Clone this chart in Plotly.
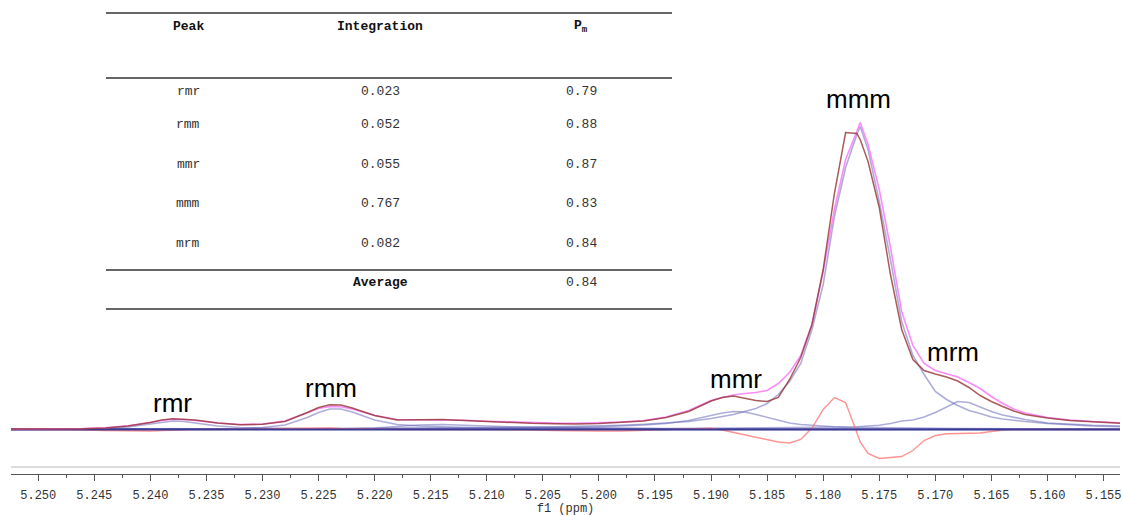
import plotly.graph_objects as go

# ---------------- data ----------------
ppm = [5.2525, 5.250, 5.248, 5.246, 5.244, 5.242, 5.240, 5.239, 5.238, 5.237, 5.236,
       5.234, 5.232, 5.230, 5.228, 5.226, 5.225, 5.224, 5.223, 5.222,
       5.220, 5.218, 5.216, 5.214, 5.212, 5.210, 5.208, 5.206, 5.204, 5.202,
       5.200, 5.198, 5.196, 5.194, 5.192, 5.190, 5.189, 5.188, 5.187, 5.186,
       5.185, 5.184, 5.183, 5.182, 5.181, 5.180, 5.179, 5.178, 5.177, 5.1767,
       5.176, 5.175, 5.174, 5.173, 5.172, 5.171, 5.170, 5.169, 5.168, 5.167,
       5.166, 5.165, 5.164, 5.163, 5.162, 5.160, 5.158, 5.156, 5.1535]

observed = [0.5, 0.5, 0.5, 0.8, 1.5, 3.5, 7, 9.5, 10.8, 10.5, 9.5,
            6.5, 4.8, 5.2, 8, 17, 22, 24.7, 24.5, 21.5,
            14, 9.5, 9.5, 10, 9, 8, 7, 6.2, 5.8, 5.5,
            6, 7, 8.5, 12, 18, 28.5, 32, 33.5, 31, 29,
            28, 32, 50, 72, 105, 160, 236, 297, 296, 290,
            268, 222, 155, 100, 70, 59, 55.5, 52.5, 48.5, 42,
            34, 28, 23, 18.5, 15, 11.5, 9, 7.5, 6.2]

fit_sum = [0.5, 0.5, 0.6, 1, 1.8, 3.8, 7, 9, 10.2, 10, 9,
           6.5, 5, 5.5, 8.5, 16.5, 21, 23, 22.8, 20.5,
           14, 10, 9.8, 10, 9.2, 8.2, 7.4, 6.8, 6.4, 6.3,
           6.6, 7.5, 9, 12.5, 19, 29, 32, 34.5, 36, 37,
           39, 46, 57, 74, 105, 158, 220, 270, 298, 307,
           285, 240, 182, 118, 84, 66, 59, 56, 52.5, 47,
           41, 33, 26, 20.5, 16.5, 12, 9.5, 8, 6.8]

peak_rmr = [0.1, 0.2, 0.3, 0.5, 1, 2.5, 5.5, 7.5, 8.5, 8, 6.5,
            3.5, 2, 1.2, 0.9, 0.7, 0.6, 0.5, 0.5, 0.4,
            0.4, 0.3, 0.3, 0.3, 0.2, 0.2, 0.2, 0.2, 0.2, 0.2,
            0.2, 0.2, 0.1, 0.1, 0.1, 0.1, 0.1, 0.1, 0.1, 0.1,
            0.1, 0.1, 0.1, 0.1, 0.1, 0.1, 0.1, 0.1, 0.1, 0.1,
            0.1, 0.1, 0.1, 0.1, 0.1, 0.1, 0.1, 0.1, 0.1, 0.1,
            0.1, 0.1, 0.1, 0.1, 0.1, 0.1, 0.1, 0.1, 0.1]

peak_rmm = [0.2, 0.2, 0.2, 0.3, 0.3, 0.4, 0.4, 0.5, 0.5, 0.6, 0.6,
            0.8, 1, 2, 4.5, 12, 17, 20.5, 20.5, 17.5,
            9.5, 5, 3.5, 2.5, 2, 1.5, 1.3, 1.1, 1, 0.9,
            0.8, 0.7, 0.7, 0.6, 0.6, 0.5, 0.5, 0.5, 0.5, 0.5,
            0.4, 0.4, 0.4, 0.4, 0.4, 0.4, 0.4, 0.3, 0.3, 0.3,
            0.3, 0.3, 0.3, 0.3, 0.3, 0.3, 0.3, 0.3, 0.3, 0.2,
            0.2, 0.2, 0.2, 0.2, 0.2, 0.2, 0.2, 0.2, 0.2]

peak_5214 = [0.1, 0.1, 0.1, 0.1, 0.1, 0.1, 0.2, 0.2, 0.2, 0.2, 0.2,
             0.2, 0.3, 0.3, 0.4, 0.5, 0.6, 0.7, 0.8, 0.9,
             1.5, 3, 4.5, 5, 4.5, 3.5, 2.8, 2.2, 1.8, 1.5,
             1.2, 1, 0.9, 0.8, 0.7, 0.6, 0.6, 0.6, 0.5, 0.5,
             0.5, 0.5, 0.5, 0.4, 0.4, 0.4, 0.4, 0.4, 0.4, 0.4,
             0.3, 0.3, 0.3, 0.3, 0.3, 0.3, 0.3, 0.3, 0.3, 0.3,
             0.2, 0.2, 0.2, 0.2, 0.2, 0.2, 0.2, 0.2, 0.2]

peak_mmr = [0.2, 0.2, 0.2, 0.2, 0.3, 0.3, 0.3, 0.3, 0.3, 0.3, 0.3,
            0.4, 0.4, 0.4, 0.5, 0.5, 0.5, 0.5, 0.6, 0.6,
            0.6, 0.7, 0.8, 0.9, 1, 1.1, 1.3, 1.5, 1.8, 2.2,
            2.7, 3.4, 4.5, 6, 9, 14, 16.5, 18, 17.5, 15,
            12, 9, 6.5, 5, 4, 3.2, 2.7, 2.3, 2.1, 2,
            1.9, 1.7, 1.5, 1.4, 1.3, 1.2, 1.1, 1, 0.9, 0.9,
            0.8, 0.8, 0.7, 0.7, 0.6, 0.6, 0.5, 0.5, 0.4]

peak_mmm = [0.3, 0.3, 0.3, 0.4, 0.4, 0.5, 0.5, 0.5, 0.5, 0.6, 0.6,
            0.7, 0.7, 0.8, 0.8, 0.9, 0.9, 1, 1, 1,
            1.1, 1.2, 1.4, 1.6, 1.8, 2, 2.2, 2.5, 2.8, 3.2,
            3.7, 4.3, 5.2, 6.5, 8, 11, 13, 15, 18, 21,
            26, 35, 48, 66, 100, 145, 213, 262, 295, 303,
            280, 228, 170, 108, 74, 55, 38, 30, 24, 19,
            16, 12.5, 10.5, 9, 8, 6, 4.5, 3.5, 2.8]

peak_mrm = [0.2, 0.2, 0.2, 0.2, 0.2, 0.2, 0.2, 0.2, 0.2, 0.2, 0.2,
            0.2, 0.3, 0.3, 0.3, 0.3, 0.3, 0.3, 0.3, 0.3,
            0.4, 0.4, 0.4, 0.5, 0.5, 0.5, 0.6, 0.6, 0.7, 0.7,
            0.8, 0.9, 0.9, 1, 1.1, 1.2, 1.3, 1.3, 1.4, 1.5,
            1.5, 1.6, 1.7, 1.8, 2, 2.1, 2.3, 2.5, 2.8, 2.9,
            3.3, 4.2, 6, 8.5, 9.5, 12.5, 17, 22.5, 28, 27,
            22.5, 18, 14.5, 12, 10, 6.5, 5, 4.2, 3.5]

residual = [0, 0, -0.3, -0.5, -1, -1.5, -1.5, -1, -0.5, 0, 0,
            0, 0, 0.5, 1, 1.5, 1.5, 1.5, 1, 1,
            0.5, 0, 0, 0, 0, 0, 0, -0.5, -1, -1.5,
            -1.5, -1.5, -1, -0.5, 0.5, 1.2, -0.5, -3, -5.3, -7.4,
            -9.8, -12.5, -13.5, -10, 1.4, 20, 32, 27, -3, -12.5,
            -24, -29, -28, -27, -21, -11, -6, -4.3, -4, -4,
            -3.5, -2, -0.5, 0, 0, 0, 0, 0, 0]

baseline_ppm = [5.2525, 5.1535]
baseline_val = [0, 0]

peak_labels = ["rmr", "rmm", "mmr", "mmm", "mrm"]
label_ppm = [5.23807, 5.22389, 5.18777, 5.17689, 5.16838]
label_height = [26.5, 41.5, 50.5, 330.5, 78.0]

table_peaks = ["rmr", "rmm", "mmr", "mmm", "mrm"]
table_integration = ["0.023", "0.052", "0.055", "0.767", "0.082"]
table_pm = ["0.79", "0.88", "0.87", "0.83", "0.84"]
table_average = "0.84"

tick_vals = [5.250, 5.245, 5.240, 5.235, 5.230, 5.225, 5.220, 5.215, 5.210, 5.205,
             5.200, 5.195, 5.190, 5.185, 5.180, 5.175, 5.170, 5.165, 5.160, 5.155]
tick_text = ["%.3f" % v for v in tick_vals]

for s in (observed, fit_sum, peak_rmr, peak_rmm, peak_5214, peak_mmr, peak_mmm, peak_mrm, residual):
    assert len(s) == len(ppm)

# ---------------- figure ----------------
W, H = 1123, 516
ML, MR, MT, MB = 11, 3, 0, 42
PW, PH = W - ML - MR, H - MT - MB

def px(xp):
    return (xp - ML) / PW

def py(yp):
    return (MT + PH - yp) / PH

fig = go.Figure()

comp_color = "rgba(105,105,185,0.55)"
for comp in (peak_rmr, peak_rmm, peak_5214, peak_mmr, peak_mmm, peak_mrm):
    fig.add_trace(go.Scatter(x=ppm, y=comp, mode="lines",
                             line=dict(color=comp_color, width=1.6), hoverinfo="skip"))

fig.add_trace(go.Scatter(x=ppm, y=residual, mode="lines",
                         line=dict(color="rgba(255,110,110,0.75)", width=1.4), hoverinfo="skip"))
fig.add_trace(go.Scatter(x=baseline_ppm, y=baseline_val, mode="lines",
                         line=dict(color="#3a3a95", width=2), hoverinfo="skip"))
fig.add_trace(go.Scatter(x=ppm, y=fit_sum, mode="lines",
                         line=dict(color="rgba(250,120,250,0.85)", width=1.6), hoverinfo="skip"))
fig.add_trace(go.Scatter(x=ppm, y=observed, mode="lines",
                         line=dict(color="rgba(150,50,50,0.8)", width=1.5), hoverinfo="skip"))

for lab, xv, yv in zip(peak_labels, label_ppm, label_height):
    fig.add_annotation(x=xv, y=yv, xref="x", yref="y", text=lab, showarrow=False,
                       xanchor="center", yanchor="middle",
                       font=dict(family="Liberation Sans, Arial", size=26, color="#000"))

# table
shapes = []
for yl, w in ((13, 1.6), (78, 1.5), (270, 1.5), (309, 1.5)):
    shapes.append(dict(type="line", xref="paper", yref="paper",
                       x0=px(106), x1=px(672), y0=py(yl), y1=py(yl),
                       line=dict(color="#333", width=w)))
# light gray rule above the axis
shapes.append(dict(type="line", xref="paper", yref="paper", x0=0, x1=1,
                   y0=py(467), y1=py(467), line=dict(color="#dcdcdc", width=2)))

col_x = [188, 380, 581]
hdr_font = dict(family="Liberation Mono, DejaVu Sans Mono", size=13, color="#111")
body_font = dict(family="Liberation Mono, DejaVu Sans Mono", size=13, color="#333")

for txt, cx in zip(["<b>Peak</b>", "<b>Integration</b>", "<b>P</b><sub><b>m</b></sub>"], col_x):
    fig.add_annotation(x=px(cx), y=py(27), xref="paper", yref="paper", text=txt,
                       showarrow=False, xanchor="center", yanchor="middle", font=hdr_font)

row_y = [91, 124.5, 164.5, 204, 243.5]
for ry, pk, itg, pm in zip(row_y, table_peaks, table_integration, table_pm):
    for txt, cx in zip([pk, itg, pm], col_x):
        fig.add_annotation(x=px(cx), y=py(ry), xref="paper", yref="paper", text=txt,
                           showarrow=False, xanchor="center", yanchor="middle", font=body_font)

fig.add_annotation(x=px(col_x[1]), y=py(283), xref="paper", yref="paper", text="<b>Average</b>",
                   showarrow=False, xanchor="center", yanchor="middle", font=hdr_font)
fig.add_annotation(x=px(col_x[2]), y=py(283), xref="paper", yref="paper", text=table_average,
                   showarrow=False, xanchor="center", yanchor="middle", font=body_font)

fig.update_layout(
    width=W, height=H,
    margin=dict(l=ML, r=MR, t=MT, b=MB),
    paper_bgcolor="white", plot_bgcolor="white",
    showlegend=False,
    shapes=shapes,
    xaxis=dict(range=[5.25243, 5.15353], showgrid=False, zeroline=False,
               showline=True, linecolor="#555", linewidth=1,
               ticks="outside", ticklen=6, tickcolor="#555", tickwidth=1,
               tickvals=tick_vals, ticktext=tick_text,
               tickfont=dict(family="Liberation Mono, DejaVu Sans Mono", size=12, color="#333"),
               ticklabelstandoff=4,
               minor=dict(dtick=0.0025, tick0=5.25, ticks="outside", ticklen=3,
                          tickcolor="#555", showgrid=False),
               title=dict(text="f1 (ppm)", standoff=0,
                          font=dict(family="Liberation Mono, DejaVu Sans Mono", size=12, color="#333"))),
    yaxis=dict(visible=False, range=[-44.5, 429.5], fixedrange=True),
)

fig.write_html("out.html", config={"displayModeBar": False})
